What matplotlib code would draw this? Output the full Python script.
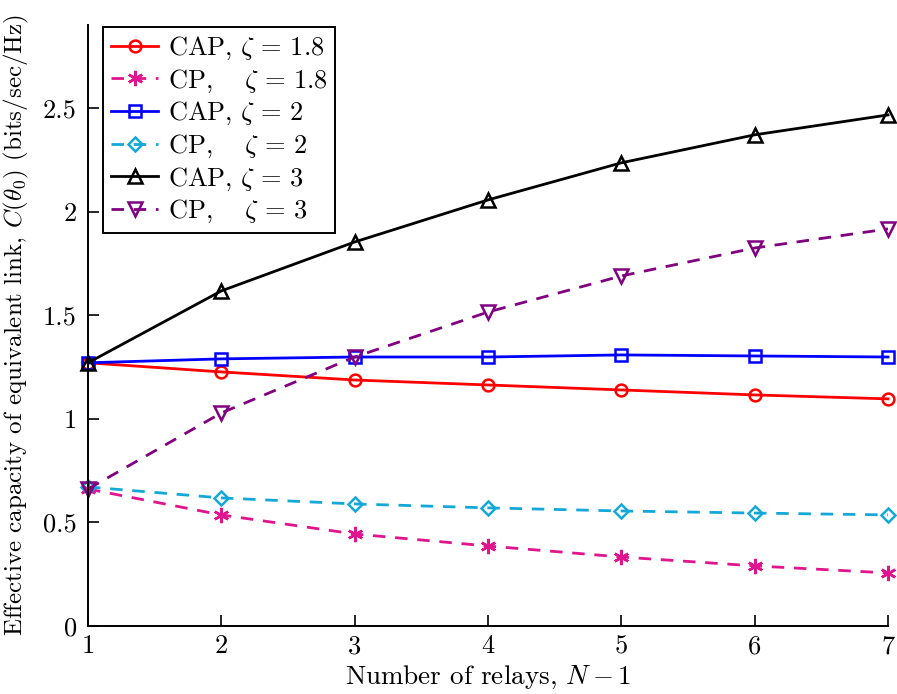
import matplotlib
matplotlib.use("Agg")
import matplotlib.pyplot as plt

plt.rcParams['font.family'] = ['serif']
plt.rcParams['font.serif'] = ['cmr10', 'DejaVu Serif']
plt.rcParams['mathtext.fontset'] = 'cm'
plt.rcParams['axes.formatter.use_mathtext'] = True
plt.rcParams['axes.unicode_minus'] = False

relays = [1, 2, 3, 4, 5, 6, 7]
cap_18 = [1.27, 1.226, 1.187, 1.163, 1.139, 1.115, 1.096]
cp_18 = [0.661, 0.536, 0.444, 0.386, 0.333, 0.290, 0.256]
cap_2 = [1.27, 1.289, 1.298, 1.298, 1.308, 1.303, 1.298]
cp_2 = [0.671, 0.618, 0.589, 0.570, 0.555, 0.545, 0.536]
cap_3 = [1.27, 1.617, 1.853, 2.056, 2.235, 2.370, 2.466]
cp_3 = [0.661, 1.028, 1.298, 1.515, 1.689, 1.824, 1.916]

labels = [r"CAP, $\zeta\,=\,1.8$", r"CP, $\quad\zeta\,=\,1.8$",
          r"CAP, $\zeta\,=\,2$", r"CP, $\quad\zeta\,=\,2$",
          r"CAP, $\zeta\,=\,3$", r"CP, $\quad\zeta\,=\,3$"]
xticks = [1, 2, 3, 4, 5, 6, 7]
yticks = [0, 0.5, 1, 1.5, 2, 2.5]
yticklabels = ["0", "0.5", "1", "1.5", "2", "2.5"]

fig = plt.figure(figsize=(8.97, 6.94), dpi=100)
ax = fig.add_axes([88/897, 1-626/694, 800/897, 601/694])

dash = (0, (4.5, 3.5))
series = [
    (cap_18, '#ff0000', '-', 'o', 8.5),
    (cp_18, '#e0148c', dash, (6, 2, 0), 11),
    (cap_2, '#0000ff', '-', 's', 8),
    (cp_2, '#14a8d8', dash, 'D', 7.5),
    (cap_3, '#000000', '-', '^', 10),
    (cp_3, '#800080', dash, 'v', 10),
]
for (vals, col, ls, mk, ms), lab in zip(series, labels):
    ax.plot(relays, vals, color=col, linestyle=ls, marker=mk, markersize=ms,
            markerfacecolor='none', markeredgecolor=col, markeredgewidth=1.8,
            linewidth=2.0, label=lab, clip_on=False)

ax.set_xlim(1, 7)
ax.set_ylim(0, 2.9)
ax.set_xticks(xticks)
ax.set_xticklabels([str(v) for v in xticks])
ax.set_yticks(yticks)
ax.set_yticklabels(yticklabels)
ax.spines['top'].set_visible(False)
ax.spines['right'].set_visible(False)
for s in ('left', 'bottom'):
    ax.spines[s].set_linewidth(1.4)
ax.tick_params(direction='in', length=8, width=1.2, labelsize=19)
ax.tick_params(axis='y', pad=8)
ax.tick_params(axis='x', pad=6)

ax.set_xlabel(r"Number of relays, $N-1$", fontsize=19.5, labelpad=4)
ax.set_ylabel(r"Effective capacity of equivalent link, $C(\theta_0)$ (bits/sec/Hz)",
              fontsize=18)
ax.yaxis.set_label_coords(-57/800, 0.5)

leg = ax.legend(loc='upper left', bbox_to_anchor=(15/800, 0.997), borderaxespad=0,
                fontsize=19, fancybox=False, edgecolor='black', framealpha=1,
                handlelength=1.8, handletextpad=0.35, labelspacing=0.2,
                borderpad=0.3)
leg.get_frame().set_linewidth(1.4)

fig.savefig("out.png", dpi=100)
